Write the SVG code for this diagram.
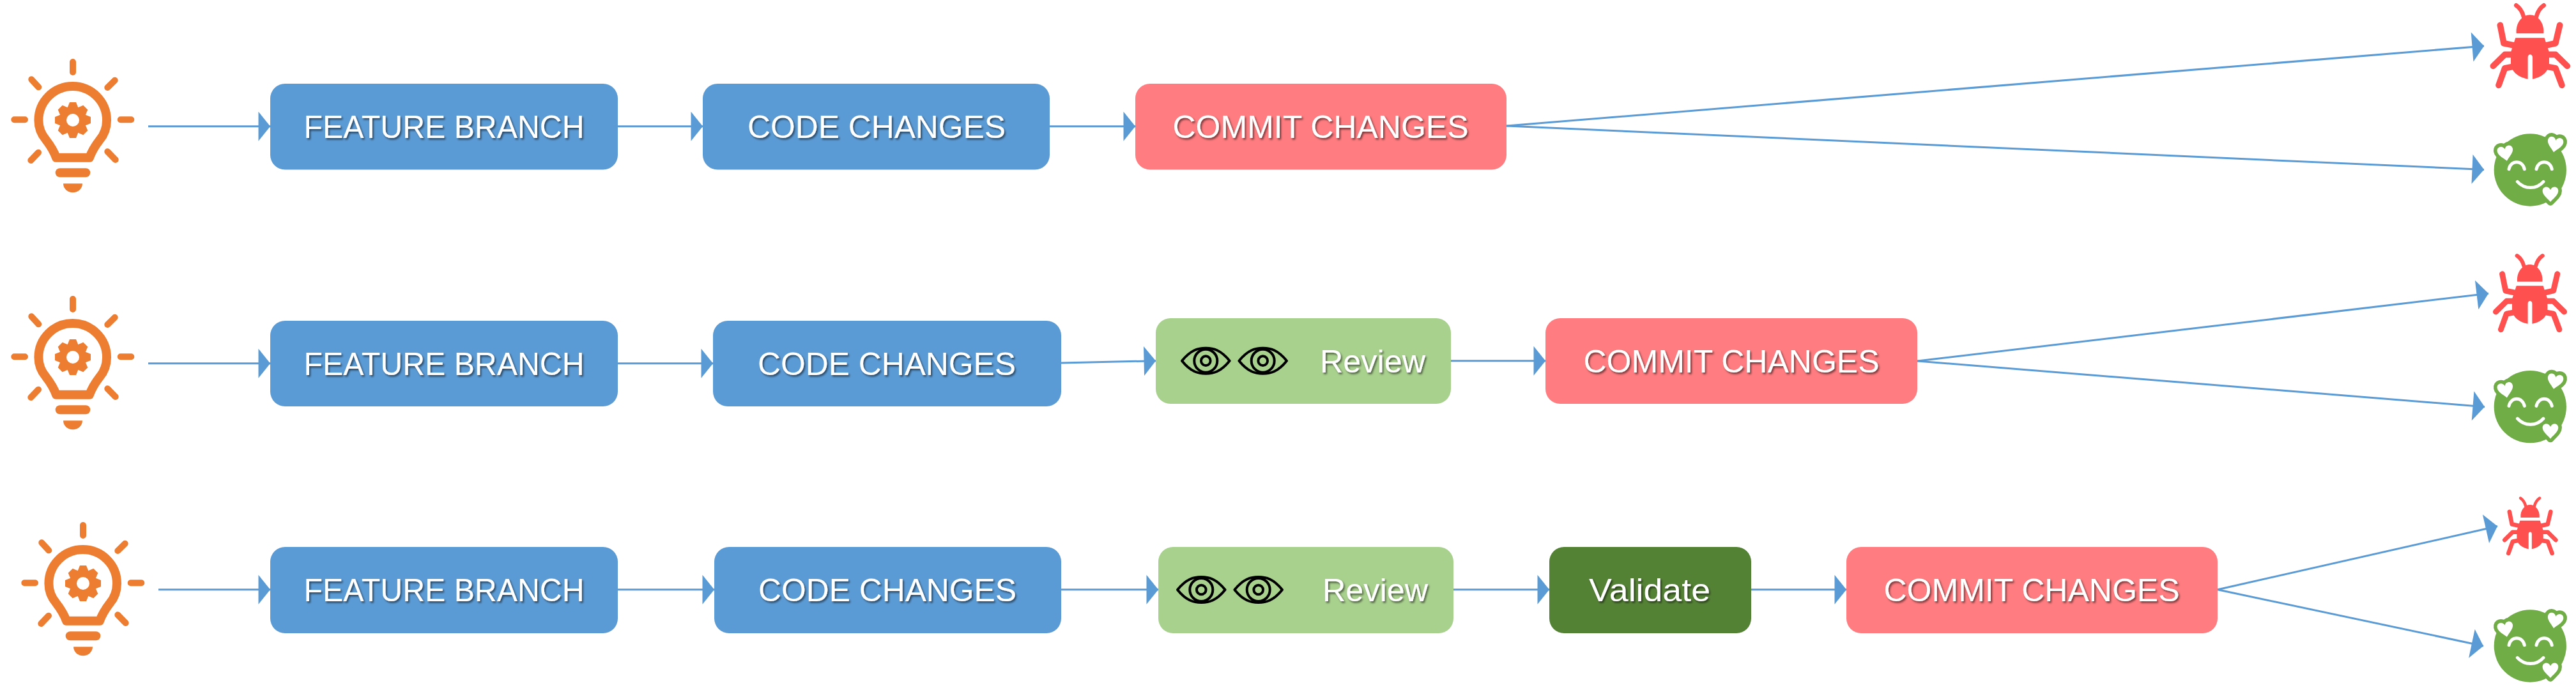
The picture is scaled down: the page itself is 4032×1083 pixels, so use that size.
<svg xmlns="http://www.w3.org/2000/svg" width="4032" height="1083" viewBox="0 0 4032 1083">
<style>
.bg{fill:#ffffff}
.box{stroke:none}
.blue{fill:#5B9BD5}
.pink{fill:#FF7C80}
.lgreen{fill:#A9D18E}
.dgreen{fill:#548235}
.t{font-family:"Liberation Sans",Arial,sans-serif;font-size:50px;fill:#ffffff;text-anchor:middle;filter:url(#ts)}
.c{fill:none;stroke:#5B9BD5;stroke-width:3;marker-end:url(#ah)}
</style>
<defs>
<filter id="ts" x="-5%" y="-20%" width="110%" height="140%"><feDropShadow dx="2" dy="2.5" stdDeviation="1.6" flood-color="#000000" flood-opacity="0.55"/></filter>
<marker id="ah" markerUnits="userSpaceOnUse" markerWidth="20" markerHeight="48" viewBox="0 -24 19 48" refX="18.5" refY="0" orient="auto"><path d="M0,-23 L18.5,0 L0,23 Z" fill="#5B9BD5"/></marker>
<path id="tooth" d="M109,160 H119 L123,170 H105 Z"/>
<g id="bulb">
<g fill="none" stroke="#ED7D31" stroke-linecap="round">
<path stroke-width="10" d="M114,97 V113 M49.3,124.3 L60.3,136.3 M179.7,125.7 L168.3,137 M22.3,187.3 H39 M188.7,187.3 H205.3 M48.3,251 L60,238.7 M168.3,237.3 L180.7,250"/>
<path stroke-width="14" stroke-linejoin="round" d="M88,246.7 H140 C144,236 149,228 156,219 C162,212 167,202 167,188.3 A53.3,53.3 0 0 0 60.4,188.3 C60.4,202 66,212 72,219 C79,228 84,236 88,246.7 Z"/>
<path stroke-width="14" d="M93.7,270.3 H134.3"/>
<circle cx="114" cy="188" r="15.5" stroke-width="11"/>
</g>
<path fill="#ED7D31" d="M99,287.3 H129 A15,14 0 0 1 99,287.3 Z"/>
<g fill="#ED7D31">
<use href="#tooth"/>
<use href="#tooth" transform="rotate(45 114 188)"/>
<use href="#tooth" transform="rotate(90 114 188)"/>
<use href="#tooth" transform="rotate(135 114 188)"/>
<use href="#tooth" transform="rotate(180 114 188)"/>
<use href="#tooth" transform="rotate(225 114 188)"/>
<use href="#tooth" transform="rotate(270 114 188)"/>
<use href="#tooth" transform="rotate(315 114 188)"/>
</g>
</g>
<g id="bug" transform="translate(-541,-215)">
<path fill="#FF5050" d="M472,178 H608 L630,245 V295 C630,340 590,365 552,371 V270 A6,8 0 0 0 530,270 V371 C492,365 450,340 450,295 V245 Z"/>
<path fill="#FF5050" d="M476,157 C472,105 505,70 540,70 C575,70 608,105 604,157 Z"/>
<g fill="none" stroke="#FF5050" stroke-linecap="round" stroke-linejoin="round">
<path stroke-width="20" d="M510,78 C503,52 492,36 475,25 M570,78 C577,52 588,36 605,25"/>
<path stroke-width="29" d="M400,118 L417,203 L465,213 M680,118 L660,203 L615,213 M367,310 L422,256 H455 M715,310 L660,256 H625 M393,400 L422,320 L465,312 M690,400 L660,320 L615,312"/>
</g>
</g>
<path id="heart" d="M0,38 C-15,20 -37,5 -37,-14 C-37,-36 -8,-40 0,-18 C8,-40 37,-36 37,-14 C37,5 15,20 0,38 Z"/>
<g id="smile" transform="translate(-541,-798)">
<circle cx="541" cy="798" r="170" fill="#70AD47"/>
<g fill="#70AD47" stroke="#70AD47" stroke-width="34" stroke-linejoin="round">
<use href="#heart" transform="translate(658,677) rotate(10)"/>
<use href="#heart" transform="translate(425,718) rotate(-10)"/>
<use href="#heart" transform="translate(636,910)"/>
</g>
<g fill="#ffffff">
<use href="#heart" transform="translate(658,677) rotate(10)"/>
<use href="#heart" transform="translate(425,718) rotate(-10)"/>
<use href="#heart" transform="translate(636,910)"/>
</g>
<path fill="none" stroke="#ffffff" stroke-width="15" stroke-linecap="round" d="M441,794 C450,750 505,750 514,794 M570,794 C579,750 634,750 643,794 M481,853 C515,890 570,890 603,853"/>
</g>
<g id="eye" fill="none" stroke="#000000" stroke-width="12">
<path stroke-linejoin="round" d="M-112,0 C-70,-52 -35,-60 0,-60 C35,-60 70,-52 112,0 C70,52 35,60 0,60 C-35,60 -70,52 -112,0 Z"/>
<circle r="54"/>
<circle r="22"/>
</g>
</defs>
<rect class="bg" width="4032" height="1083"/>
<g id="connectors">
<path class="c" d="M232,197.7 H423"/>
<path class="c" d="M967,197.7 H1100"/>
<path class="c" d="M1643,197.7 H1777"/>
<path class="c" d="M2358,197 L3888,72"/>
<path class="c" d="M2358,197 L3888,265.5"/>
<path class="c" d="M232,568.7 H423"/>
<path class="c" d="M967,568.7 H1116"/>
<path class="c" d="M1661,568 L1809,564.7"/>
<path class="c" d="M2271,564.7 H2419"/>
<path class="c" d="M3001,565 L3895,459.3"/>
<path class="c" d="M3001,565 L3889,636.7"/>
<path class="c" d="M248,922.7 H423"/>
<path class="c" d="M967,922.7 H1118"/>
<path class="c" d="M1661,922.7 H1813"/>
<path class="c" d="M2275,922.7 H2425"/>
<path class="c" d="M2741,922.7 H2890"/>
<path class="c" d="M3471,922.7 L3909,823.5"/>
<path class="c" d="M3471,922.7 L3887,1011"/>
</g>
<g id="idea1"><use href="#bulb"/></g>
<g id="idea2"><use href="#bulb" transform="translate(0,371)"/></g>
<g id="idea3"><use href="#bulb" transform="translate(16,725)"/></g>
<g id="r1-feature"><rect class="box blue" x="423" y="131" width="544" height="134.5" rx="23"/><text class="t" x="695" y="216" textLength="439" lengthAdjust="spacingAndGlyphs">FEATURE BRANCH</text></g>
<g id="r1-code"><rect class="box blue" x="1100" y="131" width="543" height="134.5" rx="23"/><text class="t" x="1372" y="216" textLength="404" lengthAdjust="spacingAndGlyphs">CODE CHANGES</text></g>
<g id="r1-commit"><rect class="box pink" x="1777" y="131" width="581" height="134.5" rx="23"/><text class="t" x="2067" y="216" textLength="463" lengthAdjust="spacingAndGlyphs">COMMIT CHANGES</text></g>
<g id="r1-bug"><use href="#bug" transform="translate(3960.3,71.7) scale(0.3333)"/></g>
<g id="r1-ok"><use href="#smile" transform="translate(3960.3,266) scale(0.3333)"/></g>
<g id="r2-feature"><rect class="box blue" x="423" y="502" width="544" height="134" rx="23"/><text class="t" x="695" y="587" textLength="439" lengthAdjust="spacingAndGlyphs">FEATURE BRANCH</text></g>
<g id="r2-code"><rect class="box blue" x="1116" y="502" width="545" height="134" rx="23"/><text class="t" x="1388" y="587" textLength="404" lengthAdjust="spacingAndGlyphs">CODE CHANGES</text></g>
<g id="r2-review"><rect class="box lgreen" x="1809" y="498" width="462" height="134" rx="23"/>
<use href="#eye" transform="translate(1887.3,564.7) scale(0.3333)"/><use href="#eye" transform="translate(1976.7,564.7) scale(0.3333)"/>
<text class="t" x="2148.5" y="583" textLength="165" lengthAdjust="spacingAndGlyphs">Review</text></g>
<g id="r2-commit"><rect class="box pink" x="2419" y="498" width="582" height="134" rx="23"/><text class="t" x="2710" y="583" textLength="463" lengthAdjust="spacingAndGlyphs">COMMIT CHANGES</text></g>
<g id="r2-bug"><use href="#bug" transform="translate(3960,458.7) scale(0.308)"/></g>
<g id="r2-ok"><use href="#smile" transform="translate(3960.3,636.7) scale(0.3333)"/></g>
<g id="r3-feature"><rect class="box blue" x="423" y="856" width="544" height="135" rx="23"/><text class="t" x="695" y="941" textLength="439" lengthAdjust="spacingAndGlyphs">FEATURE BRANCH</text></g>
<g id="r3-code"><rect class="box blue" x="1118" y="856" width="543" height="135" rx="23"/><text class="t" x="1389" y="941" textLength="404" lengthAdjust="spacingAndGlyphs">CODE CHANGES</text></g>
<g id="r3-review"><rect class="box lgreen" x="1813" y="856" width="462" height="135" rx="23"/>
<use href="#eye" transform="translate(1880.3,923) scale(0.3333)"/><use href="#eye" transform="translate(1969.7,923) scale(0.3333)"/>
<text class="t" x="2152.5" y="941" textLength="165" lengthAdjust="spacingAndGlyphs">Review</text></g>
<g id="r3-validate"><rect class="box dgreen" x="2425" y="856" width="316" height="135" rx="23"/><text class="t" x="2582" y="941" textLength="190" lengthAdjust="spacingAndGlyphs">Validate</text></g>
<g id="r3-commit"><rect class="box pink" x="2890" y="856" width="581" height="135" rx="23"/><text class="t" x="3180" y="941" textLength="463" lengthAdjust="spacingAndGlyphs">COMMIT CHANGES</text></g>
<g id="r3-bug"><use href="#bug" transform="translate(3960.3,823.3) scale(0.23)"/></g>
<g id="r3-ok"><use href="#smile" transform="translate(3960.3,1011) scale(0.3333)"/></g>
</svg>
